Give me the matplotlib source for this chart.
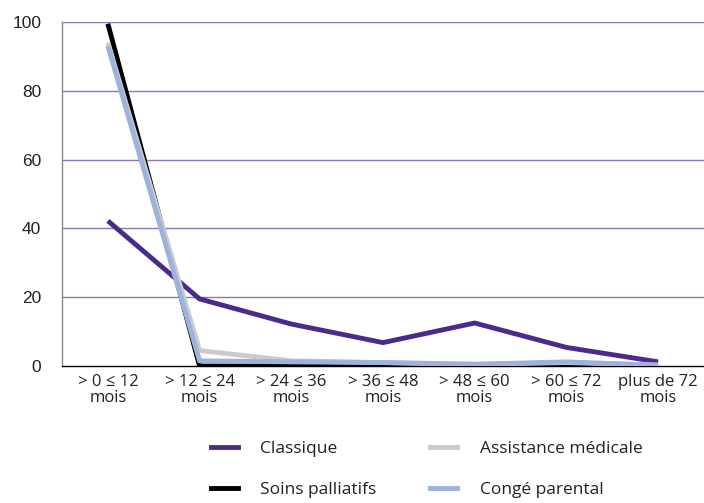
import matplotlib
matplotlib.use("Agg")
import matplotlib.pyplot as plt
from matplotlib.lines import Line2D

plt.rcParams['font.family'] = ['Open Sans', 'DejaVu Sans']

categories = ["> 0 ≤ 12\nmois", "> 12 ≤ 24\nmois", "> 24 ≤ 36\nmois", "> 36 ≤ 48\nmois",
              "> 48 ≤ 60\nmois", "> 60 ≤ 72\nmois", "plus de 72\nmois"]
classique = [42.2, 19.5, 12.2, 6.8, 12.5, 5.4, 1.2]
assistance = [94.0, 4.5, 1.5, 1.0, 0.5, 1.0, 0.3]
soins = [99.5, 0.0, 0.0, 0.0, 0.0, 0.0, 0.0]
conge = [93.0, 1.5, 1.2, 1.0, 0.5, 1.2, 0.2]
yticks = [0, 20, 40, 60, 80, 100]

c_classique = "#4A2A8A"
c_assist = "#CBCBCB"
c_soins = "#000000"
c_conge = "#9DB2DC"
grid_c = "#8877BB"
txt_c = "#222222"

fig = plt.figure(figsize=(7.04, 5.03), dpi=100)
ax = fig.add_axes([62/704, 137/503, 642/704, 344/503])

x = list(range(len(categories)))
lw = 3.5
ax.plot(x, classique, color=c_classique, lw=lw, zorder=3, solid_capstyle='butt')
ax.plot(x, soins, color=c_soins, lw=lw, zorder=4, solid_capstyle='butt')
ax.plot(x, assistance, color=c_assist, lw=lw, zorder=5, solid_capstyle='butt')
ax.plot(x, conge, color=c_conge, lw=lw, zorder=6, solid_capstyle='butt')

ax.set_xlim(-0.5, len(categories) - 0.5)
ax.set_ylim(0, 100)
ax.set_yticks(yticks)
ax.set_yticklabels([str(v) for v in yticks], fontsize=12.5, color=txt_c,
                   family=['Liberation Sans', 'DejaVu Sans'])
ax.set_xticks(x)
ax.set_xticklabels(categories, fontsize=12, color=txt_c, linespacing=1.0)
ax.tick_params(axis='x', length=0, pad=6)
ax.tick_params(axis='y', length=0, pad=15)

for v in yticks[1:]:
    ax.axhline(v, color=grid_c, lw=1.0, zorder=1)

for s in ['top', 'right']:
    ax.spines[s].set_visible(False)
ax.spines['left'].set_color("#888888")
ax.spines['left'].set_linewidth(1.0)
ax.spines['bottom'].set_color("#000000")
ax.spines['bottom'].set_linewidth(1.0)

handles = [
    Line2D([], [], color=c_classique, lw=3.5),
    Line2D([], [], color=c_soins, lw=3.5),
    Line2D([], [], color=c_assist, lw=3.5),
    Line2D([], [], color=c_conge, lw=3.5),
]
labels = ["Classique", "Soins palliatifs", "Assistance médicale", "Congé parental"]
fig.legend(handles, labels, ncol=2, loc='center', bbox_to_anchor=(426.5/704, 33.5/503),
           frameon=False, prop={'size': 12.5}, handlelength=1.55, handletextpad=1.3,
           columnspacing=3.1, labelspacing=1.45, labelcolor=txt_c,
           borderpad=0, borderaxespad=0)

fig.savefig("out.png", dpi=100)
